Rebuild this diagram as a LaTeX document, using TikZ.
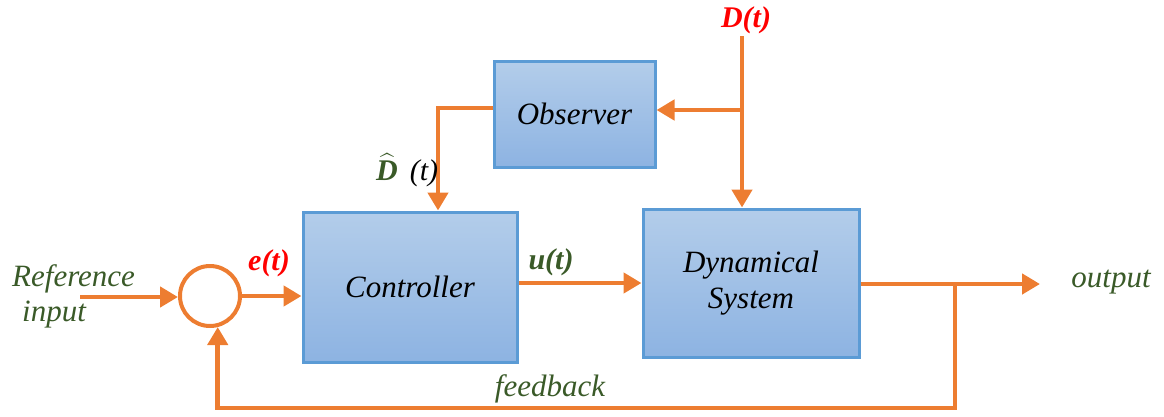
\documentclass[tikz,border=0pt]{standalone}
\usepackage{fontspec}
\usepackage{amsmath}
\setmainfont{Liberation Serif}
\usetikzlibrary{arrows.meta}
\definecolor{orng}{HTML}{ED7D31}
\definecolor{bord}{HTML}{5B9BD5}
\definecolor{ftop}{HTML}{B3CDEA}
\definecolor{fbot}{HTML}{8DB3E2}
\definecolor{grn}{HTML}{3A5A28}
\tikzset{
  blk/.style={draw=bord, line width=3pt, top color=ftop, bottom color=fbot, font=\fontsize{31}{35}\selectfont\itshape, align=center},
  conn/.style={draw=orng, line width=4.5pt, -{Triangle[length=18pt,width=20pt]}},
  lbl/.style={font=\fontsize{31}{35}\selectfont\itshape, text=grn, inner sep=0pt},
  sig/.style={font=\fontsize{30}{34}\selectfont\bfseries\itshape, inner sep=0pt}
}
\begin{document}
\begin{tikzpicture}[x=1pt,y=-1pt]
\useasboundingbox (0,0) rectangle (1164,416);
% blocks
\node[blk, minimum width=161pt, minimum height=106pt] (obs) at (574.5,114) {Observer};
\node[blk, minimum width=214pt, minimum height=150pt] (ctrl) at (410,287) {Controller};
\node[blk, minimum width=216pt, minimum height=148pt] (dyn) at (751,283) {Dynamical\\[1pt]System};
\node[circle, draw=orng, line width=4pt, minimum size=60pt, inner sep=0pt] (sum) at (210,296) {};
% coordinates
\coordinate (refstart) at (80,297);
\coordinate (dtop) at (742,36);
\coordinate (dbranch) at (742,110);
\coordinate (outend) at (1040,284);
\coordinate (fbtap) at (955,285);
\coordinate (hatx) at (438,0);
% connectors
\draw[conn] (refstart) -- (sum.west |- refstart);
\draw[conn] (sum.east) -- (sum.east -| ctrl.west);
\draw[conn] (ctrl.east |- 0,283) -- (dyn.west |- 0,283);
\draw[conn] (dtop) -- (dtop |- dyn.north);
\draw[conn] (dbranch) -- (dbranch -| obs.east);
\draw[conn] (obs.west |- 0,108) -| (hatx |- ctrl.north);
\draw[conn] (dyn.east |- outend) -- (outend);
\draw[conn] (fbtap) -- (fbtap |- 0,408) -- (sum.284 |- 0,408) -- (sum.284);
% labels
\node[lbl, anchor=west] (refA) at (12,279) {Reference};
\node[lbl, anchor=west] (refB) at (22,315) {input};
\node[lbl] (outlbl) at (1111,282) {output};
\node[lbl] (fblbl) at (550,389) {feedback};
\node[sig, text=red] (elbl) at (269,263) {e(t)};
\node[sig, text=grn] (ulbl) at (551,262) {u(t)};
\node[sig, text=red] (dlbl) at (746,20) {D(t)};
\node[inner sep=0pt, font=\fontsize{30}{34}\selectfont, anchor=west] (dhat) at (376,170) {\textcolor{grn}{$\widehat{\mbox{\bfseries\itshape D}}$}\hspace{12pt}\itshape (t)};
\end{tikzpicture}
\end{document}
